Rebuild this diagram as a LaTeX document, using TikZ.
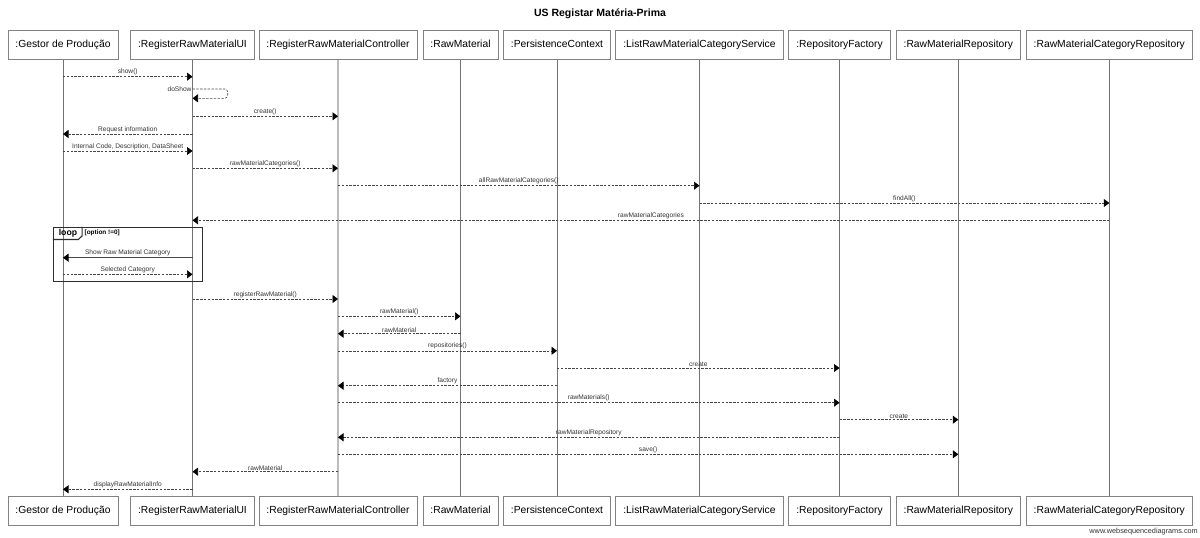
\documentclass[tikz,border=0pt]{standalone}
\usepackage{fontspec}
\setmainfont{Liberation Sans}
\usetikzlibrary{arrows.meta}
\definecolor{boxgray}{RGB}{130,130,130}
\definecolor{lifegray}{RGB}{115,115,115}
\definecolor{ctrlgray}{RGB}{188,188,188}
\definecolor{msggray}{RGB}{70,70,70}
\definecolor{lblgray}{RGB}{50,50,50}
\definecolor{framegray}{RGB}{45,45,45}
\begin{document}
\begin{tikzpicture}[x=1pt,y=-1pt,
  obj/.style={draw=boxgray, line width=0.8pt, fill=white, minimum height=29.5pt, inner xsep=7.5pt, text height=8pt, text depth=2.4pt, font=\fontsize{10.3}{12}\selectfont},
  life/.style={draw=lifegray, line width=0.9pt},
  tip/.style={-{Triangle[length=5.5pt,width=8pt,color=black]}},
  msg/.style={draw=msggray, line width=0.6pt, dash pattern=on 2.4pt off 1.4pt, tip},
  smsg/.style={draw=msggray, line width=0.7pt, tip},
  lbl/.style={font=\fontsize{6.6}{7}\selectfont, text=lblgray, inner sep=0.4pt, anchor=south, yshift=0.9pt},
  frame/.style={draw=framegray, line width=1.1pt}
]
\useasboundingbox (0,0) rectangle (1200,538);

\node[font=\bfseries\fontsize{10.5}{12}\selectfont] (title) at (600,14) {US Registar Matéria-Prima};

% lifeline boxes
\foreach \n/\x/\t in {G/63/{:Gestor de Produção}, UI/192.5/{:RegisterRawMaterialUI}, C/338/{:RegisterRawMaterialController}, RM/460.5/{:RawMaterial}, PC/557/{:PersistenceContext}, LS/699.5/{:ListRawMaterialCategoryService}, RF/839.5/{:RepositoryFactory}, RR/958.3/{:RawMaterialRepository}, RC/1109.3/{:RawMaterialCategoryRepository}} {
  \node[obj] (h\n) at (\x,45) {\t};
  \node[obj] (f\n) at (\x,511) {\t};
}

% lifelines
\foreach \n in {G,UI,RM,PC,LS,RF,RR,RC} {
  \draw[life] (h\n.south) -- (f\n.north);
}
\draw[draw=ctrlgray, line width=2.6pt] (hC.south) -- (fC.north);

% loop frame
\node[frame, minimum width=149.4pt, minimum height=54pt, inner sep=0pt] (loopbox) at (128,254.3) {};
\draw[frame] ([yshift=-12.7pt]loopbox.north west) -- ++(25.7,0) -- ++(3.6,-3.5) -- ([xshift=29.4pt]loopbox.north west);
\node[font=\bfseries\fontsize{8.7}{9}\selectfont, inner sep=0pt] (looplbl) at (68,233.6) {loop};
\node[font=\bfseries\fontsize{6.4}{7}\selectfont, anchor=west, inner sep=0pt] (loopcond) at (84.5,232.8) {[option !=0]};

% messages
\draw[msg] (hG |- 0,76.7) -- node[lbl]{show()} (hUI |- 0,76.7);
\draw[msg, rounded corners=3pt] (hUI |- 0,89) -- (227.7,89) -- (227.7,98.3) -- (hUI |- 0,98.3);
\node[font=\fontsize{6.6}{7}\selectfont, text=lblgray, anchor=east, inner sep=0.8pt] (doshow) at (hUI |- 0,89.6) {doShow};
\draw[msg] (hUI |- 0,116.3) -- node[lbl]{create()} (hC |- 0,116.3);
\draw[msg] (hUI |- 0,134) -- node[lbl]{Request information} (hG |- 0,134);
\draw[msg] (hG |- 0,151) -- node[lbl]{Internal Code, Description, DataSheet} (hUI |- 0,151);
\draw[msg] (hUI |- 0,168.3) -- node[lbl]{rawMaterialCategories()} (hC |- 0,168.3);
\draw[msg] (hC |- 0,185.7) -- node[lbl]{allRawMaterialCategories()} (hLS |- 0,185.7);
\draw[msg] (hLS |- 0,203) -- node[lbl]{findAll()} (hRC |- 0,203);
\draw[msg] (hRC |- 0,220.3) -- node[lbl]{rawMaterialCategories} (hUI |- 0,220.3);
\draw[smsg] (hUI |- 0,257.7) -- node[lbl]{Show Raw Material Category} (hG |- 0,257.7);
\draw[msg] (hG |- 0,274.3) -- node[lbl]{Selected Category} (hUI |- 0,274.3);
\draw[msg] (hUI |- 0,299) -- node[lbl]{registerRawMaterial()} (hC |- 0,299);
\draw[msg] (hC |- 0,316.3) -- node[lbl]{rawMaterial()} (hRM |- 0,316.3);
\draw[msg] (hRM |- 0,333.7) -- node[lbl]{rawMaterial} (hC |- 0,333.7);
\draw[msg] (hC |- 0,350.8) -- node[lbl]{repositories()} (hPC |- 0,350.8);
\draw[msg] (hPC |- 0,368) -- node[lbl]{create} (hRF |- 0,368);
\draw[msg] (hPC |- 0,385.7) -- node[lbl]{factory} (hC |- 0,385.7);
\draw[msg] (hC |- 0,402.7) -- node[lbl]{rawMaterials()} (hRF |- 0,402.7);
\draw[msg] (hRF |- 0,419.7) -- node[lbl]{create} (hRR |- 0,419.7);
\draw[msg] (hRF |- 0,437.3) -- node[lbl]{rawMaterialRepository} (hC |- 0,437.3);
\draw[msg] (hC |- 0,454.3) -- node[lbl]{save()} (hRR |- 0,454.3);
\draw[msg] (hC |- 0,471.7) -- node[lbl]{rawMaterial} (hUI |- 0,471.7);
\draw[msg] (hUI |- 0,489.3) -- node[lbl]{displayRawMaterialInfo} (hG |- 0,489.3);

\node[font=\fontsize{7.3}{8}\selectfont, text=lblgray, anchor=east, inner sep=0pt] (wm) at (1198,532) {www.websequencediagrams.com};
\end{tikzpicture}
\end{document}
